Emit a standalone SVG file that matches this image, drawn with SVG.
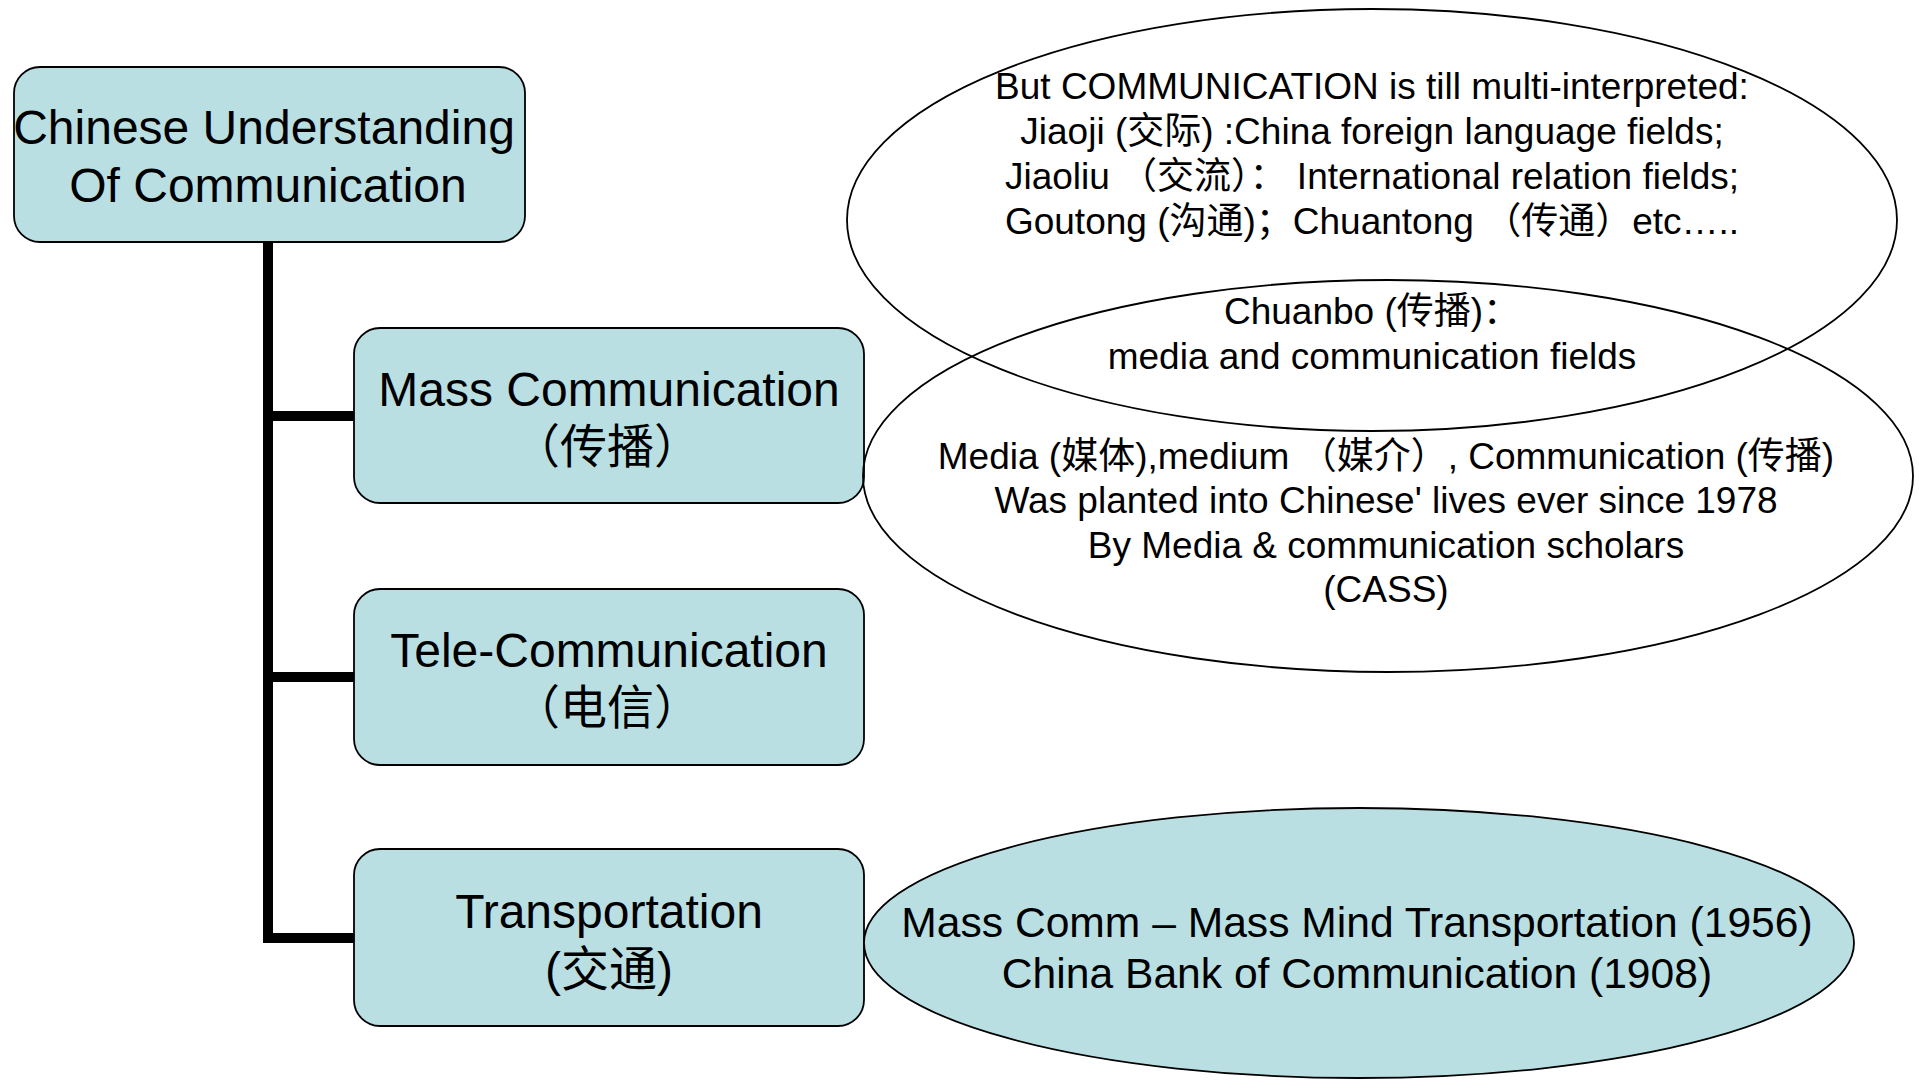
<svg xmlns="http://www.w3.org/2000/svg" width="1919" height="1080" viewBox="0 0 1919 1080">
<style>
.box{fill:#B9DFE3;stroke:#000;stroke-width:1.8}
.ell{fill:none;stroke:#000;stroke-width:1.8}
.ellf{fill:#B9DFE3;stroke:#000;stroke-width:1.8}
text{font-family:"Liberation Sans","Noto Sans CJK SC",sans-serif;fill:#000;text-anchor:middle}
.t48{font-size:48px}
.t37{font-size:37px}
.t43{font-size:42.6px}
.cjk{font-size:47px}
.conn{fill:none;stroke:#000;stroke-width:10;stroke-linejoin:miter}
</style>
<rect width="1919" height="1080" fill="#fff"/>
<g id="connectors">
<path class="conn" d="M268,242 V938 H354 M268,416 H354 M268,677 H354"/>
</g>
<g id="root">
<rect class="box" x="14" y="67" width="511" height="175" rx="26"/>
<text class="t48" x="264" y="144">Chinese Understanding</text>
<text class="t48" x="268" y="202">Of Communication</text>
</g>
<g id="mass">
<rect class="box" x="354" y="328" width="510" height="175" rx="26"/>
<text class="t48" x="609" y="406">Mass Communication</text>
<text class="cjk" x="607" y="463">（传播）</text>
</g>
<g id="tele">
<rect class="box" x="354" y="589" width="510" height="176" rx="26"/>
<text class="t48" x="609" y="667">Tele-Communication</text>
<text class="cjk" x="607" y="724">（电信）</text>
</g>
<g id="transport">
<rect class="box" x="354" y="849" width="510" height="177" rx="26"/>
<text class="t48" x="609" y="928">Transportation</text>
<text class="t48" x="609" y="986">(交通)</text>
</g>
<g id="interpretations">
<ellipse class="ell" cx="1372" cy="220" rx="525" ry="211"/>
<text class="t37" x="1372" y="99">But COMMUNICATION is till multi-interpreted:</text>
<text class="t37" x="1372" y="144">Jiaoji (交际) :China foreign language fields;</text>
<text class="t37" x="1372" y="189">Jiaoliu （交流）： International relation fields;</text>
<text class="t37" x="1372" y="234">Goutong (沟通)；Chuantong （传通）etc…..</text>
<text class="t37" x="1372" y="324">Chuanbo (传播)：</text>
<text class="t37" x="1372" y="369">media and communication fields</text>
</g>
<g id="media">
<ellipse class="ell" cx="1388" cy="476" rx="525" ry="196"/>
<text class="t37" x="1386" y="469">Media (媒体),medium （媒介）, Communication (传播)</text>
<text class="t37" x="1386" y="513">Was planted into Chinese' lives ever since 1978</text>
<text class="t37" x="1386" y="558">By Media &amp; communication scholars</text>
<text class="t37" x="1386" y="602">(CASS)</text>
</g>
<g id="masscomm-history">
<ellipse class="ellf" cx="1359" cy="943" rx="495" ry="135"/>
<text class="t43" x="1357" y="937">Mass Comm – Mass Mind Transportation (1956)</text>
<text class="t43" x="1357" y="988">China Bank of Communication (1908)</text>
</g>
</svg>
